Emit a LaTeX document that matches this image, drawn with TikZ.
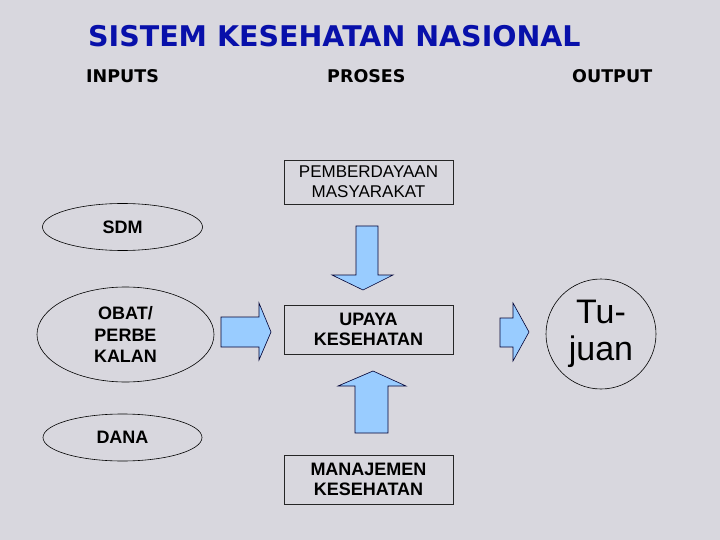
\documentclass[tikz,border=0pt]{standalone}
\usepackage{fontspec}
\setmainfont{Liberation Sans}
\newfontfamily\verd{DejaVu Sans}
\usetikzlibrary{shapes.geometric}
\definecolor{bgc}{RGB}{216,215,222}
\definecolor{titleblue}{RGB}{8,16,170}
\definecolor{arrowblue}{RGB}{153,204,255}
\begin{document}
\begin{tikzpicture}[x=1pt,y=-1pt,
  lbl/.style={inner sep=0pt,anchor=base west},
  hdr/.style={lbl,font=\verd\bfseries\fontsize{17.5}{20}\selectfont},
  ell/.style={draw=black,line width=0.6pt,ellipse,inner sep=0pt,align=center,
     font=\bfseries\fontsize{18}{21.5}\selectfont},
  boxn/.style={draw=black!85,line width=0.7pt,rectangle,inner sep=0pt,align=center,
     minimum width=169pt},
  blockarrow/.style={fill=arrowblue,draw=black!80!blue,line width=0.6pt,line join=miter}]
\fill[bgc] (0,0) rectangle (720,540);
\useasboundingbox (0,0) rectangle (720,540);

\node[lbl,font=\verd\bfseries\fontsize{28.5}{30}\selectfont,text=titleblue] (title) at (88,47) {SISTEM KESEHATAN NASIONAL};
\node[hdr] (inputs) at (86,82.5) {INPUTS};
\node[hdr] (proses) at (327,82.5) {PROSES};
\node[hdr] (output) at (572,82.5) {OUTPUT};

% inputs
\node[ell,minimum width=160pt,minimum height=47pt] (sdm) at (122.5,227) {SDM};
\node[ell,minimum width=177pt,minimum height=95pt] (obat) at (125.5,334.5) {OBAT/\\PERBE\\KALAN};
\node[ell,minimum width=159pt,minimum height=47pt] (dana) at (122.5,437.5) {DANA};

% process boxes
\node[boxn,minimum height=44pt,font=\fontsize{17}{20}\selectfont] (pm) at (368.5,182) {PEMBERDAYAAN\\MASYARAKAT};
\node[boxn,minimum height=49pt,font=\bfseries\fontsize{18}{20.5}\selectfont] (uk) at (368.5,329.5) {UPAYA\\KESEHATAN};
\node[boxn,minimum height=49pt,font=\bfseries\fontsize{18}{20.5}\selectfont] (mk) at (368.5,479.5) {MANAJEMEN\\KESEHATAN};

% goal
\node[draw=black,line width=0.6pt,circle,minimum size=110pt,inner sep=0pt,align=center,
      font=\fontsize{34}{37}\selectfont] (tujuan) at (601,334) {Tu-\\juan};

% block arrows
\draw[blockarrow] (221,317) -- (259,317) -- (259,303) -- (271,332) -- (259,360) -- (259,347) -- (221,347) -- cycle;
\draw[blockarrow] (500,318) -- (513,318) -- (513,303) -- (529,332) -- (513,361) -- (513,347) -- (500,347) -- cycle;
\draw[blockarrow] (356,226) -- (378,226) -- (378,275) -- (393,275) -- (363,290) -- (332,275) -- (356,275) -- cycle;
\draw[blockarrow] (355,433) -- (388,433) -- (388,386) -- (406,386) -- (373,371) -- (338,386) -- (355,386) -- cycle;
\end{tikzpicture}
\end{document}
